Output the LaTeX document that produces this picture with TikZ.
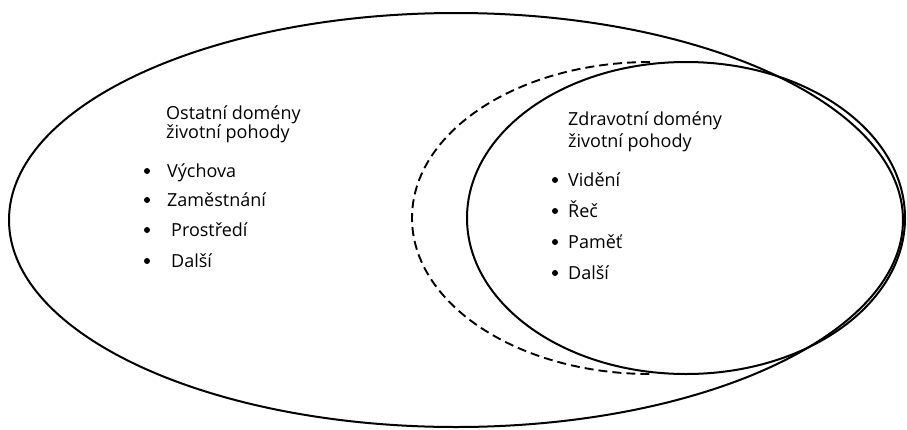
\documentclass[tikz,border=0pt]{standalone}
\usepackage{fontspec}
\setmainfont{Open Sans}

\begin{document}
\begin{tikzpicture}[
    x=1pt, y=-1pt,
    ring/.style={draw, line width=2pt},
    sharedring/.style={draw, line width=1.9pt, dash pattern=on 9pt off 5pt},
    entry/.style={anchor=base west, inner sep=0pt, font=\fontsize{18}{22}\selectfont},
    bullet/.style={circle, fill, inner sep=0pt, minimum size=6pt}
  ]
    \useasboundingbox (0,0) rectangle (907,429);
    % outer and inner domains
    \draw[ring] (456,220) ellipse [x radius=447, y radius=207];
    \draw[ring] (686,218) ellipse [x radius=219, y radius=156];
    \draw[sharedring] (650,62) arc [start angle=270, end angle=90, x radius=238, y radius=156];

    % other domains
    \node[entry] (otherA) at (166,119) {Ostatní domény};
    \node[entry] (otherB) at (166,138) {životní pohody};
    \foreach \y/\x/\txt [count=\i] in {177/167/Výchova, 206/167/Zaměstnání, 236/171/Prostředí, 267/171/Další}{
      \node[bullet] (od\i) at (147,\y-6) {};
      \node[entry] (ot\i) at (\x,\y) {\txt};
    }

    % health domains
    \node[entry] (healthA) at (568,125) {Zdravotní domény};
    \node[entry] (healthB) at (568,147) {životní pohody};
    \foreach \y/\txt [count=\i] in {186/Vidění, 217/Řeč, 248/Paměť, 279/Další}{
      \node[bullet] (hd\i) at (555,\y-6) {};
      \node[entry] (ht\i) at (568,\y) {\txt};
    }
  \end{tikzpicture}
\end{document}
